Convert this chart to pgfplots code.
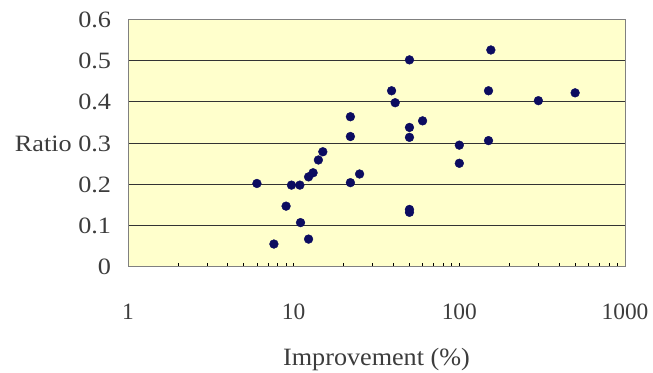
\documentclass[border=0pt]{standalone}
\usepackage{fontspec}
\setmainfont{Liberation Serif}
\usepackage{pgfplots}
\pgfplotsset{compat=1.18}

\definecolor{plotbg}{RGB}{255,255,204}
\definecolor{framegray}{RGB}{128,128,128}
\definecolor{dotnavy}{RGB}{12,12,96}
\definecolor{labelgray}{RGB}{60,60,60}

\begin{document}
\begin{tikzpicture}
\useasboundingbox (0,0) rectangle (653bp,373bp);
\begin{axis}[
  at={(128bp,106.3bp)}, anchor=south west,
  scale only axis,
  width=497bp, height=247.2bp,
  xmode=log, log basis x=10,
  xmin=1, xmax=1000, ymin=0, ymax=0.6,
  xtick={1,10,100,1000},
  xticklabels={1,10,100,1000},
  minor xtick={2,3,4,5,6,7,8,9,20,30,40,50,60,70,80,90,200,300,400,500,600,700,800,900},
  ytick={0,0.1,0.2,0.3,0.4,0.5,0.6},
  yticklabels={0,0.1,0.2,Ratio 0.3,0.4,0.5,0.6},
  xtick pos=bottom, ytick pos=left,
  tick align=inside,
  major tick length=4bp, minor tick length=4bp,
  every tick/.style={black, line width=0.6bp},
  ytick style={draw=none},
  ymajorgrids,
  major grid style={black!80, line width=0.9bp},
  axis background/.style={fill=plotbg},
  axis line style={framegray, line width=0.9bp},
  tick label style={font=\fontsize{23.5}{26}\selectfont, text=labelgray},
  xticklabel style={anchor=base, yshift=-53bp},
  yticklabel style={anchor=base east, xshift=-13bp, yshift=-8bp, xscale=1.12},
  xlabel={Improvement (\%)},
  xlabel style={font=\fontsize{25}{28}\selectfont, text=labelgray, xscale=1.05,
    at={(axis description cs:0.5,0)}, anchor=base, yshift=-99bp},
  clip=false,
]
\addplot[only marks, mark=*, mark size=4.4bp,
  mark options={fill=dotnavy, draw=dotnavy}] table {
x y
6 0.202
7.6 0.055
9 0.147
9.7 0.198
10.9 0.198
11 0.107
12.3 0.218
12.3 0.067
13.1 0.228
14.1 0.259
15 0.279
22 0.364
22 0.316
22 0.204
25 0.225
39 0.427
41 0.398
50 0.502
50 0.338
50 0.314
50 0.139
50 0.132
60 0.354
100 0.295
100 0.251
150 0.427
150 0.306
155 0.526
300 0.403
500 0.422
};
\end{axis}
\end{tikzpicture}
\end{document}
